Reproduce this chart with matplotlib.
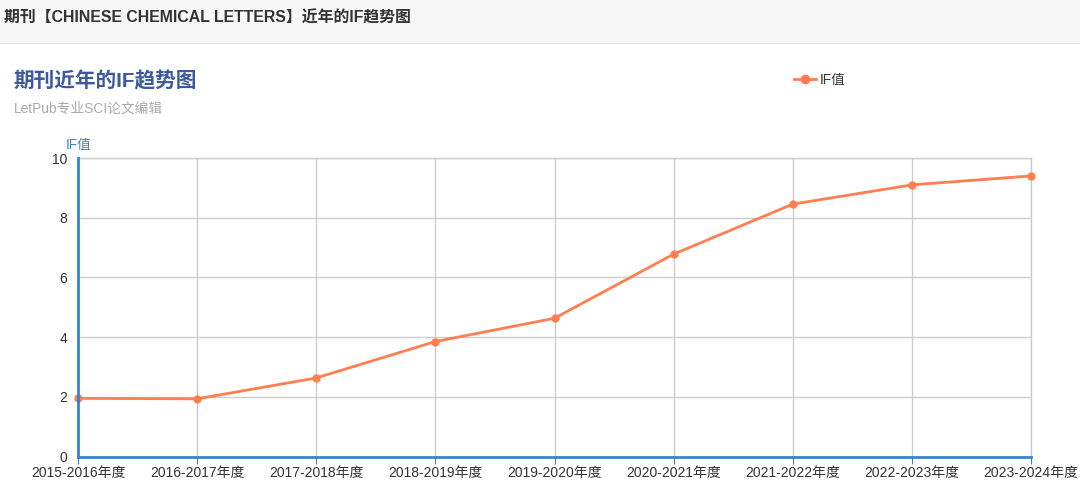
import matplotlib
matplotlib.use("Agg")
import matplotlib.pyplot as plt
from matplotlib.patches import Rectangle
from matplotlib.lines import Line2D

plt.rcParams['font.family'] = ['Liberation Sans', 'Noto Sans CJK SC', 'DejaVu Sans']

# data
years = ['2015-2016年度', '2016-2017年度', '2017-2018年度', '2018-2019年度',
         '2019-2020年度', '2020-2021年度', '2021-2022年度', '2022-2023年度',
         '2023-2024年度']
if_values = [1.947, 1.932, 2.631, 3.851, 4.632, 6.779, 8.455, 9.1, 9.4]
y_ticks = [0, 2, 4, 6, 8, 10]

W, H = 1080, 487
fig = plt.figure(figsize=(W / 100, H / 100), dpi=100)
fig.patch.set_facecolor('white')

# header band
fig.patches.append(Rectangle((0, 1 - 42 / H), 1, 42 / H, transform=fig.transFigure,
                             facecolor='#f7f7f7', edgecolor='none', zorder=0))
fig.add_artist(Line2D([0, 1], [1 - 42.5 / H] * 2, transform=fig.transFigure,
                      color='#e5e5e5', lw=1))
fig.text(4 / W, 1 - 18 / H, '期刊【CHINESE CHEMICAL LETTERS】近年的IF趋势图',
         fontsize=11.4, fontweight='bold', color='#333333', va='center', ha='left')

# titles
fig.text(14 / W, 1 - 81 / H, '期刊近年的IF趋势图', fontsize=14.9, fontweight='bold',
         color='#3d5a9c', va='center', ha='left')
fig.text(14 / W, 1 - 109 / H, 'LetPub专业SCI论文编辑', fontsize=9.9,
         color='#aaaaaa', va='center', ha='left')

# plot area
left, right, top, bottom = 78, 1031, 158, 456.5
ax = fig.add_axes([left / W, 1 - bottom / H, (right - left) / W, (bottom - top) / H])
x = list(range(len(years)))
ax.plot(x, if_values, color='#ff7f50', lw=2, marker='o', markersize=5,
        clip_on=False, zorder=5, label='IF值')
ax.set_xlim(0, len(years) - 1)
ax.set_ylim(0, 10)
ax.set_xticks(x)
ax.set_xticklabels(years)
ax.set_yticks(y_ticks)
ax.grid(True, color='#cccccc', lw=1)
ax.axvline(x[-1], color='#cccccc', lw=1, clip_on=False, zorder=0.5)
ax.axhline(10, color='#cccccc', lw=1, clip_on=False, zorder=0.5)
ax.set_axisbelow(True)
for s in ['top', 'right']:
    ax.spines[s].set_visible(False)
for s in ['left', 'bottom']:
    ax.spines[s].set_color('#3a84c4')
    ax.spines[s].set_linewidth(2)
    ax.spines[s].set_zorder(6)
ax.tick_params(axis='y', length=0, labelsize=10, labelcolor='#333333', pad=8)
ax.tick_params(axis='x', length=5, color='#3a84c4', labelsize=10,
               labelcolor='#333333', pad=2)
ax.text(-12 / (right - left) * (len(years) - 1), 10.2, 'IF值', fontsize=9.8,
        color='#3a84c4', ha='left', va='bottom')

# legend
fig.legend(handles=[Line2D([0], [0], color='#ff7f50', lw=2, marker='o', markersize=6)],
           labels=['IF值'], loc='center left', bbox_to_anchor=(782 / W, 1 - 80 / H),
           frameon=False, fontsize=9.8, handlelength=1.6, handletextpad=0.3,
           labelcolor='#333333')

fig.savefig('out.png', dpi=100)
